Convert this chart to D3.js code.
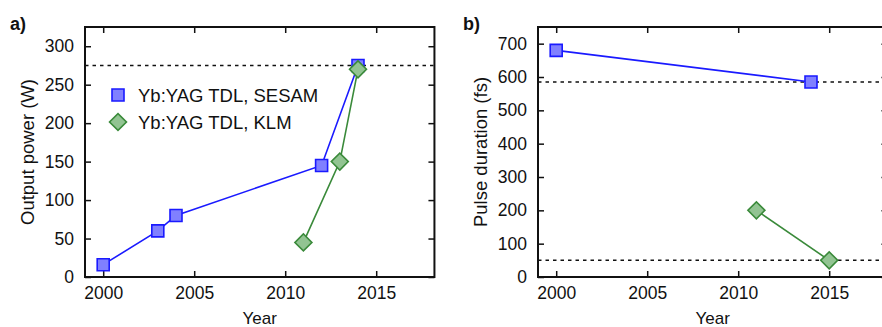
<!DOCTYPE html>
<html>
<head>
<meta charset="utf-8">
<script src="https://cdn.jsdelivr.net/npm/d3@7"></script>
<style>
  body { margin: 0; background: #fff; }
  text { font-family: "Liberation Sans", Arial, sans-serif; fill: #111; }
</style>
</head>
<body>
<script>
// data
var sesamYears = [2000, 2003, 2004, 2012, 2014];
var sesamPower = [16, 60, 80, 145, 275];
var klmYears = [2011, 2013, 2014];
var klmPower = [45, 150, 270];

var sesamPulseYears = [2000, 2014];
var sesamPulse = [680, 585];
var klmPulseYears = [2011, 2015];
var klmPulse = [200, 50];

var powerLimit = [275];
var pulseLimits = [585, 50];

var yearTicks = [2000, 2005, 2010, 2015];
var powerTicks = [0, 50, 100, 150, 200, 250, 300];
var pulseTicks = [0, 100, 200, 300, 400, 500, 600, 700];

var w = 882, h = 327;

var svg = d3.select("body").append("svg")
  .attr("width", w)
  .attr("height", h);

function zip(xs, ys) {
  return xs.map(function(x, i) { return {x: x, y: ys[i]}; });
}

var blueLine = "#1a1aff", blueFill = "#8080ff";
var greenLine = "#3a8a3a", greenFill = "#92c492";

// one panel, same years-to-pixels for both
function panel(left, ymax, yTicks, yLabel, tag, series, limits) {
  var top = 27, bottom = 277;
  var x = d3.scaleLinear().domain([1999, 2018.2]).range([left, left + 19.2 * 18.2]);
  var y = d3.scaleLinear().domain([0, ymax]).range([bottom, top]);

  var g = svg.append("g");

  g.append("g")
    .attr("transform", "translate(0," + bottom + ")")
    .call(d3.axisBottom(x).tickValues(yearTicks).tickFormat(d3.format("d")).tickSize(-6).tickPadding(10))
    .call(function(a) { a.select(".domain").remove(); })
    .selectAll("text").attr("font-size", 17.5).attr("font-family", "Liberation Sans, Arial, sans-serif").attr("fill", "#111");

  g.append("g")
    .attr("transform", "translate(0," + top + ")")
    .call(d3.axisTop(x).tickValues(yearTicks).tickFormat("").tickSize(-6))
    .call(function(a) { a.select(".domain").remove(); });

  g.append("g")
    .attr("transform", "translate(" + left + ",0)")
    .call(d3.axisLeft(y).tickValues(yTicks).tickSize(-6).tickPadding(11))
    .call(function(a) { a.select(".domain").remove(); })
    .selectAll("text").attr("font-size", 17.5).attr("font-family", "Liberation Sans, Arial, sans-serif").attr("fill", "#111");

  g.append("g")
    .attr("transform", "translate(" + x.range()[1] + ",0)")
    .call(d3.axisRight(y).tickValues(yTicks).tickFormat("").tickSize(-6))
    .call(function(a) { a.select(".domain").remove(); });

  g.selectAll(".tick line").attr("stroke", "#111").attr("stroke-width", 1.5);

  // dashed limits
  g.selectAll(".limit")
    .data(limits)
    .enter().append("line")
    .attr("x1", x.range()[0]).attr("x2", x.range()[1])
    .attr("y1", function(d) { return y(d); })
    .attr("y2", function(d) { return y(d); })
    .attr("stroke", "#111")
    .attr("stroke-width", 1.5)
    .attr("stroke-dasharray", "3.5,4");

  var line = d3.line().x(function(d) { return x(d.x); }).y(function(d) { return y(d.y); });
  var sym = d3.symbol().type(d3.symbolSquare).size(144);

  series.forEach(function(s) {
    g.append("path")
      .datum(s.pts)
      .attr("d", line)
      .attr("fill", "none")
      .attr("stroke", s.stroke)
      .attr("stroke-width", 1.6);
    g.selectAll(null)
      .data(s.pts)
      .enter().append("path")
      .attr("d", sym)
      .attr("transform", function(d) {
        return "translate(" + x(d.x) + "," + y(d.y) + ")" + (s.diamond ? " rotate(45)" : "");
      })
      .attr("fill", s.fill)
      .attr("stroke", s.stroke)
      .attr("stroke-width", 1.6);
  });

  // frame
  g.append("rect")
    .attr("x", x.range()[0]).attr("y", top)
    .attr("width", x.range()[1] - x.range()[0]).attr("height", bottom - top)
    .attr("fill", "none")
    .attr("stroke", "#111")
    .attr("stroke-width", 2);

  g.append("text")
    .attr("x", (x(1999) + x(2018.2)) / 2)
    .attr("y", 324)
    .attr("text-anchor", "middle")
    .attr("font-size", 17)
    .text("Year");

  g.append("text")
    .attr("transform", "translate(" + (left - 51) + "," + (top + bottom) / 2 + ") rotate(-90)")
    .attr("text-anchor", "middle")
    .attr("font-size", 18.5)
    .text(yLabel);

  g.append("text")
    .attr("x", left - 75)
    .attr("y", 30)
    .attr("font-size", 18)
    .attr("font-weight", "bold")
    .text(tag);

  return g;
}

panel(85, 325, powerTicks, "Output power (W)", "a)", [
  {pts: zip(sesamYears, sesamPower), stroke: blueLine, fill: blueFill, diamond: false},
  {pts: zip(klmYears, klmPower), stroke: greenLine, fill: greenFill, diamond: true}
], powerLimit);

panel(538, 750, pulseTicks, "Pulse duration (fs)", "b)", [
  {pts: zip(sesamPulseYears, sesamPulse), stroke: blueLine, fill: blueFill, diamond: false},
  {pts: zip(klmPulseYears, klmPulse), stroke: greenLine, fill: greenFill, diamond: true}
], pulseLimits);

// legend in panel a
var legend = [
  {label: "Yb:YAG TDL, SESAM", stroke: blueLine, fill: blueFill, diamond: false},
  {label: "Yb:YAG TDL, KLM", stroke: greenLine, fill: greenFill, diamond: true}
];
var lg = svg.append("g").attr("transform", "translate(118,95)");
var item = lg.selectAll("g").data(legend).enter().append("g")
  .attr("transform", function(d, i) { return "translate(0," + i * 27 + ")"; });
item.append("path")
  .attr("d", d3.symbol().type(d3.symbolSquare).size(144))
  .attr("transform", function(d) { return d.diamond ? "rotate(45)" : null; })
  .attr("fill", function(d) { return d.fill; })
  .attr("stroke", function(d) { return d.stroke; })
  .attr("stroke-width", 1.6);
item.append("text")
  .attr("x", 20)
  .attr("y", 6.5)
  .attr("font-size", 18.5)
  .text(function(d) { return d.label; });
</script>
</body>
</html>
